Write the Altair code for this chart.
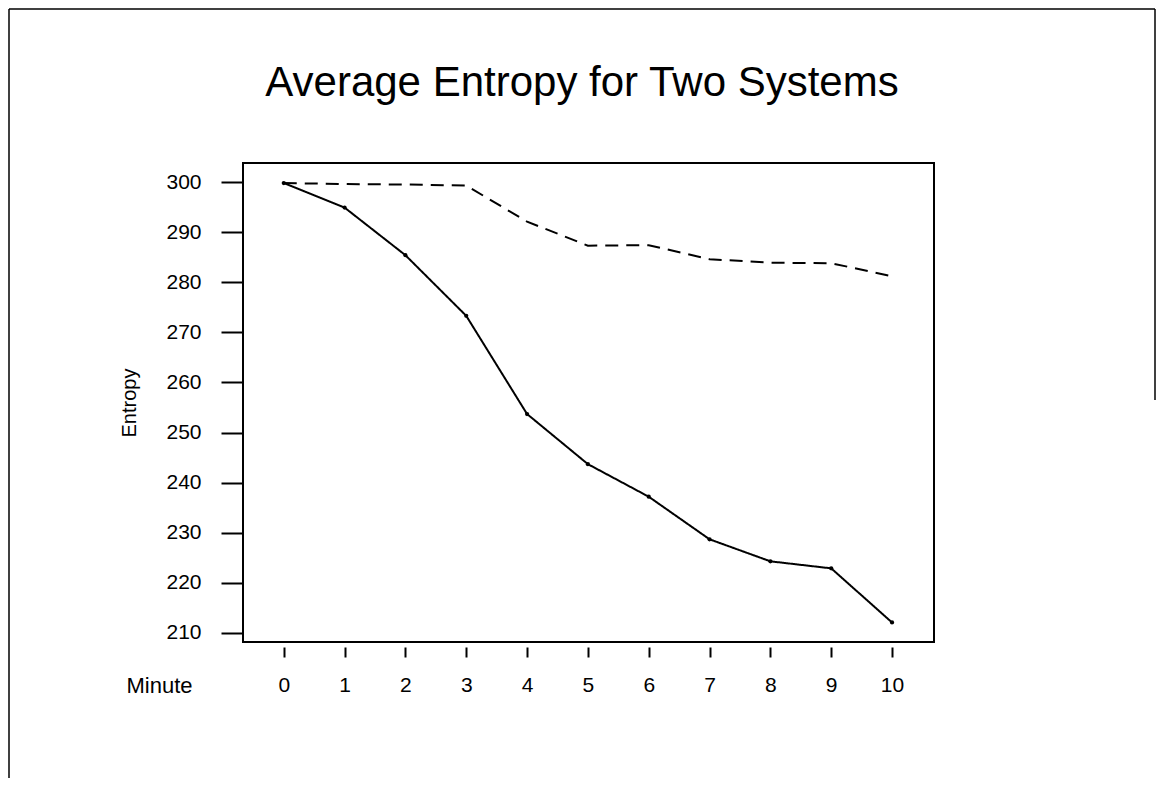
import altair as alt
import pandas as pd

# ---- data ----
minutes = [0, 1, 2, 3, 4, 5, 6, 7, 8, 9, 10]
system_solid = [299.8, 294.9, 285.4, 273.3, 253.7, 243.7, 237.2, 228.7, 224.3, 222.9, 212.1]
system_dashed = [299.8, 299.6, 299.5, 299.3, 292.1, 287.3, 287.4, 284.6, 283.9, 283.8, 281.2]
series_names = ["System 1", "System 2"]
y_tick_values = [210, 220, 230, 240, 250, 260, 270, 280, 290, 300]
x_tick_values = [0, 1, 2, 3, 4, 5, 6, 7, 8, 9, 10]
title_text = "Average Entropy for Two Systems"
x_title = "Minute"
y_title = "Entropy"

FONT = "Liberation Sans"
W, H = 691, 479

rows = []
for name, vals in zip(series_names, [system_solid, system_dashed]):
    for m, v in zip(minutes, vals):
        rows.append({"Minute": m, "Entropy": v, "System": name})
df = pd.DataFrame(rows)

x_scale = alt.Scale(domain=[-0.67, 10.69], nice=False, zero=False)
y_scale = alt.Scale(domain=[208.2, 303.8], nice=False, zero=False)

x_axis = alt.Axis(
    values=x_tick_values, format="d", title=x_title, domain=False, grid=False,
    offset=5, tickSize=10, tickWidth=2, tickColor="black",
    labelFont=FONT, labelFontSize=21, labelColor="black",
    labelPadding=28, labelBaseline="middle",
    titleFont=FONT, titleFontSize=22, titleFontWeight="normal", titleColor="black",
    titleX=-84, titleY=38, titleAlign="center", titleBaseline="middle", titleAngle=0,
)
y_axis = alt.Axis(
    values=y_tick_values, format="d", title=y_title, domain=False, grid=False,
    tickSize=22, tickWidth=2, tickColor="black",
    labelFont=FONT, labelFontSize=21, labelColor="black", labelPadding=20,
    titleFont=FONT, titleFontSize=20, titleFontWeight="normal", titleColor="black",
    titleX=-114, titleY=H / 2, titleAngle=270, titleAlign="center", titleBaseline="middle",
)

lines = alt.Chart(df).mark_line(color="black", strokeWidth=2).encode(
    x=alt.X("Minute:Q", scale=x_scale, axis=x_axis),
    y=alt.Y("Entropy:Q", scale=y_scale, axis=y_axis),
    strokeDash=alt.StrokeDash(
        "System:N",
        scale=alt.Scale(domain=series_names, range=[[1, 0], [13, 8]]),
        legend=None,
    ),
)

points = alt.Chart(df).transform_filter(
    alt.datum.System == series_names[0]
).mark_point(filled=True, color="black", size=18, opacity=1).encode(
    x=alt.X("Minute:Q", scale=x_scale),
    y=alt.Y("Entropy:Q", scale=y_scale),
)

title = alt.Chart(pd.DataFrame({"t": [title_text]})).mark_text(
    font=FONT, fontSize=42, color="black", align="center", baseline="alphabetic"
).encode(text="t:N", x=alt.value(339), y=alt.value(-67))

one = pd.DataFrame({"a": [0]})
frame_left = alt.Chart(one).mark_rule(color="black", strokeWidth=1.5).encode(
    x=alt.value(-234), y=alt.value(-154), y2=alt.value(615))
frame_top = alt.Chart(one).mark_rule(color="black", strokeWidth=1.5).encode(
    x=alt.value(-234), x2=alt.value(912), y=alt.value(-154))
frame_right = alt.Chart(one).mark_rule(color="black", strokeWidth=1.5).encode(
    x=alt.value(912), y=alt.value(-154), y2=alt.value(237))

chart = alt.layer(lines, points, title, frame_left, frame_top, frame_right).properties(
    width=W, height=H,
    autosize=alt.AutoSizeParams(type="none"),
    padding={"left": 235, "top": 155, "right": 222, "bottom": 137},
    background="white",
).configure_view(stroke="black", strokeWidth=2)

chart.save("out.html", embed_options={"renderer": "svg", "actions": False})
